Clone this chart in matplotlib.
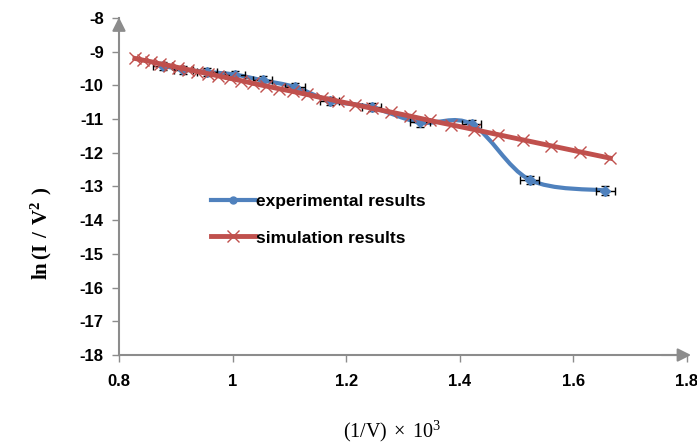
import numpy as np
import matplotlib.pyplot as plt
from matplotlib.path import Path
from matplotlib.patches import PathPatch

plt.rcParams['mathtext.fontset'] = 'custom'
plt.rcParams['mathtext.rm'] = 'Liberation Serif'
plt.rcParams['mathtext.bf'] = 'Liberation Serif:bold'

# experimental: (1/V) x 10^3 and ln(I/V^2)
exp_x = [0.877, 0.913, 0.955, 1.004, 1.053, 1.110, 1.171, 1.245, 1.330,
         1.421, 1.523, 1.656]
exp_y = [-9.42, -9.53, -9.60, -9.68, -9.85, -10.05, -10.45, -10.65,
         -11.10, -11.15, -12.80, -13.12]
exp_xerr = 0.017
exp_yerr = 0.12

# simulation
sim_x = [0.828, 0.842, 0.857, 0.872, 0.888, 0.904, 0.921, 0.938, 0.956,
         0.975, 0.995, 1.015, 1.036, 1.059, 1.082, 1.106, 1.131, 1.158,
         1.186, 1.215, 1.245, 1.278, 1.312, 1.347, 1.385, 1.425, 1.467,
         1.512, 1.560, 1.611, 1.665]
sim_y = [-9.20, -9.25, -9.30, -9.36, -9.41, -9.47, -9.53, -9.59, -9.65,
         -9.72, -9.79, -9.86, -9.94, -10.02, -10.10, -10.18, -10.27,
         -10.37, -10.47, -10.57, -10.68, -10.79, -10.91, -11.04, -11.17,
         -11.31, -11.46, -11.62, -11.79, -11.97, -12.16]

blue = '#4F81BD'
red = '#C0504D'
axis_gray = '#8C8C8C'
tick_font = {'family': 'Liberation Sans', 'weight': 'bold', 'size': 12}

fig = plt.figure(figsize=(6.97, 4.45), dpi=100)
ax = fig.add_axes([0.1707, 0.2022, 0.8150, 0.7574])

# smoothed line like the spreadsheet's "smooth line" option (bezier through points)
pts = np.column_stack([exp_x, exp_y])
verts = [pts[0]]
codes = [Path.MOVETO]
n = len(pts)
for i in range(n - 1):
    p0 = pts[i - 1] if i > 0 else pts[i]
    p1 = pts[i]
    p2 = pts[i + 1]
    p3 = pts[i + 2] if i + 2 < n else pts[i + 1]
    verts += [p1 + (p2 - p0) / 6.0, p2 - (p3 - p1) / 6.0, p2]
    codes += [Path.CURVE4] * 3
ax.add_patch(PathPatch(Path(verts, codes), facecolor='none', edgecolor=blue,
                       lw=3, zorder=2, capstyle='round'))

ax.errorbar(exp_x, exp_y, xerr=exp_xerr, yerr=exp_yerr, fmt='D', color=blue,
            ms=5, ecolor='black', elinewidth=1, capsize=3, capthick=1, zorder=3)

ax.plot(sim_x, sim_y, color=red, lw=3.5, marker='x', ms=9, mew=1, zorder=4)

# legend handles
ax.plot([], [], color=blue, lw=3, marker='o', ms=5, label='experimental results')
ax.plot([], [], color=red, lw=3.5, marker='x', ms=9, mew=1, label='simulation results')
ax.legend(loc='center left', bbox_to_anchor=(0.147, 0.402), frameon=False,
          borderpad=0, handlelength=2.5, handletextpad=0.1, labelspacing=1.25,
          prop={'family': 'Liberation Sans', 'weight': 'bold', 'size': 12.5})

ax.set_xlim(0.8, 1.8)
ax.set_ylim(-18, -8)
ax.set_xticks([0.8, 1.0, 1.2, 1.4, 1.6, 1.8])
ax.set_xticklabels(['0.8', '1', '1.2', '1.4', '1.6', '1.8'], fontdict=tick_font)
ax.set_yticks(range(-18, -7))
ax.set_yticklabels([str(v) for v in range(-18, -7)], fontdict=tick_font)
ax.tick_params(direction='out', length=5, width=1, color=axis_gray)
ax.tick_params(axis='x', pad=9)
ax.tick_params(axis='y', pad=6)

for s in ['top', 'right']:
    ax.spines[s].set_visible(False)
for s in ['left', 'bottom']:
    ax.spines[s].set_color(axis_gray)
    ax.spines[s].set_linewidth(1.5)

# arrow heads on the axes
ax.annotate('', xy=(0, 1.01), xytext=(0, 0.95), xycoords='axes fraction',
            arrowprops=dict(arrowstyle='-|>', color=axis_gray, lw=1.5,
                            mutation_scale=20), annotation_clip=False)
ax.annotate('', xy=(1.012, 0), xytext=(0.95, 0), xycoords='axes fraction',
            arrowprops=dict(arrowstyle='-|>', color=axis_gray, lw=1.5,
                            mutation_scale=20), annotation_clip=False)

ax.set_ylabel(r'$\mathbf{ln\,(I\ /\ V^{2}\ )}$', fontsize=15)
ax.yaxis.set_label_coords(-0.115, 0.36)
ax.set_xlabel(r'$\mathrm{(1/V)\,\times\,10^{3}}$', fontsize=14.5)
ax.xaxis.set_label_coords(0.48, -0.19)

fig.savefig('out.png', dpi=100)
